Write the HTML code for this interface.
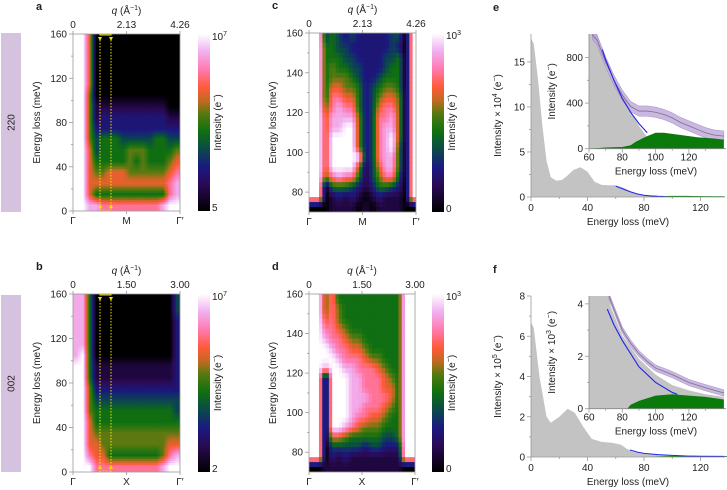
<!DOCTYPE html>
<html><head><meta charset="utf-8">
<style>
html,body{margin:0;padding:0;background:#fff;}
svg{display:block;font-family:"Liberation Sans",Arial,sans-serif;}
text{fill:#222;font-size:10px;}
.b{font-weight:bold;font-size:11px;}
</style></head>
<body>
<svg id="fig" width="727" height="490" viewBox="0 0 727 490" xmlns="http://www.w3.org/2000/svg">
<defs>
<clipPath id="clipA"><rect x="73" y="34" width="107" height="177"/></clipPath>
<clipPath id="clipB"><rect x="73" y="294" width="107" height="178"/></clipPath>
<clipPath id="clipC"><rect x="309" y="33" width="107" height="179"/></clipPath>
<clipPath id="clipD"><rect x="309" y="294" width="106" height="178"/></clipPath>
<clipPath id="clipEi"><rect x="589" y="34" width="136" height="115"/></clipPath>
<clipPath id="clipFi"><rect x="589" y="296" width="136" height="113"/></clipPath>
<linearGradient id="cmap" x1="0" y1="1" x2="0" y2="0">
<stop offset="0" stop-color="#000000"/><stop offset="0.15" stop-color="#2a0a55"/><stop offset="0.25" stop-color="#1a1a80"/>
<stop offset="0.35" stop-color="#0a4a4a"/><stop offset="0.45" stop-color="#107010"/><stop offset="0.55" stop-color="#557a10"/>
<stop offset="0.62" stop-color="#c06a20"/><stop offset="0.7" stop-color="#ff5a3a"/><stop offset="0.8" stop-color="#ff7ab0"/>
<stop offset="0.9" stop-color="#f0b0f0"/><stop offset="1" stop-color="#ffffff"/>
</linearGradient>
</defs>
</svg>
<script>
// ---------- data ----------
const heatA = ["9960000000000000","9960000000000000","9960000000000000","9960000000000000","9960000000000000","9950000000000000","9951111111111100","9951222222222211","9952222222222222","9953444333334433","9963444455544445","9964444454544456","9965566655555567","9966666666666678","9964444444444478","9988777777777899"];
const heatB = ["8840000000000003","8840000000000003","8840000000000002","8840000000000002","8840000000000002","8940000000000002","9941111111111112","9941111111111112","9952222222222222","9953333333333333","9954444444444443","9964444444444444","9965555555555555","9966555555555566","9976644444444578","9997777777777899"];
const heatC = ["9934323222223309","9944332222223209","9944433222233409","9945443322234409","9945554322344409","9946655423455409","9947766423566509","9957877423677509","9968888523778509","9968899523788509","9969999523789509","9969999523789409","9969999923788409","9969999513688409","9957877413577309","9904443212443209","9901212101211109","0001111010111100"];
const heatD = ["9957444444444499","9957544444444499","9967544444444499","9977654444444499","9987765544444499","9998776654444499","9999877765544499","9989988777654499","9909998877765499","9909998877766499","9909998887776499","9909998877765499","9909998776654499","9909987655544499","9906654444433499","9903333323322299","9902121111111199","0011111111111100"];

const eE    = [0,2,5,8,11,14,18,22,26,30,35,40,45,50,55,60,65,70,75,80,85,90,100,110,120,137];
const eGray = [17.6,17,13,8,4,2.2,1.8,1.9,2.4,3.0,3.3,2.8,1.7,1.35,1.3,1.3,1.05,0.65,0.35,0.2,0.15,0.1,0.06,0.04,0.03,0.02];
const eBlueE = [60,65,70,75,80,85,90,95];
const eBlue  = [1.2,0.9,0.6,0.35,0.2,0.13,0.08,0.05];
const eGreenE = [80,90,100,110,120,137];
const eGreen  = [0.02,0.1,0.13,0.12,0.1,0.08];
const eiE    = [60,65,70,75,80,85,90,95,100];
const eiGray = [1100,1000,720,580,480,330,200,100,0];
const eiBlueE = [68,70,75,80,85,90,95];
const eiBlue  = [870,780,600,440,320,220,140];
const eiBandE = [62,65,70,75,80,85,90,95,100,105,110,115,120,125,130,135,141];
const eiBand  = [1000,950,760,600,470,370,330,330,320,300,270,230,200,170,140,120,110];
const eiGreenE = [60,70,80,85,88,92,95,100,105,110,115,120,125,130,135,141];
const eiGreen  = [0,10,15,30,60,90,110,140,140,130,120,110,100,95,90,80];

const fE    = [0,2,6,11,14,20,26,31,37,43,50,58,64,68,73,80,90,110,137];
const fGray = [6.7,6.4,4.0,2.0,1.7,2.0,2.4,2.2,1.5,0.9,0.75,0.7,0.6,0.4,0.25,0.15,0.1,0.05,0.03];
const fBlueE = [70,75,80,90,100,110,120,137];
const fBlue  = [0.35,0.25,0.18,0.12,0.08,0.05,0.04,0.03];
const fiE    = [60,72,73,80,90,100,110,120,130,141];
const fiGray = [4.5,4.5,3.9,2.8,1.9,1.3,0.9,0.7,0.55,0.45];
const fiBlueE = [71,75,80,90,100,110,113];
const fiBlue  = [3.8,3.2,2.6,1.6,1.0,0.62,0.55];
const fiBandE = [72,75,80,85,90,95,100,110,120,130,141];
const fiBand  = [4.3,3.8,3.0,2.5,2.1,1.8,1.55,1.3,1.0,0.8,0.6];
const fiGreenE = [83,85,90,100,110,120,130,141];
const fiGreen  = [0,0.15,0.3,0.5,0.55,0.5,0.45,0.35];

// ---------- helpers ----------
const NS="http://www.w3.org/2000/svg";
const svg=document.getElementById('fig');
function mk(tag,attrs,parent){const e=document.createElementNS(NS,tag);for(const k in attrs)e.setAttribute(k,attrs[k]);(parent||svg).appendChild(e);return e;}
function txt(s,x,y,anchor,parent,cls){const e=mk('text',{x:x,y:y,'text-anchor':anchor||'middle'},parent);if(cls)e.setAttribute('class',cls);e.textContent=s;return e;}
function rtxt(s,x,y,parent){const e=mk('text',{x:0,y:0,'text-anchor':'middle',transform:`translate(${x},${y}) rotate(-90)`},parent);e.innerHTML=s;return e;}
const stops=[[0,[0,0,0]],[0.15,[42,10,85]],[0.25,[26,26,128]],[0.35,[10,74,74]],[0.45,[16,112,16]],[0.55,[85,122,16]],[0.62,[192,106,32]],[0.7,[255,90,58]],[0.8,[255,122,176]],[0.9,[240,176,240]],[1,[255,255,255]]];
function cmap(t){for(let i=1;i<stops.length;i++){if(t<=stops[i][0]){const a=stops[i-1],b=stops[i];const f=(t-a[0])/(b[0]-a[0]);const c=a[1].map((v,k)=>Math.round(v+(b[1][k]-v)*f));return `rgb(${c[0]},${c[1]},${c[2]})`;}}return '#fff';}

// display smoothing: bilinear sampling of the grid (data unchanged)
function sample(rows,u,v){
  const nr=rows.length,nc=rows[0].length;
  u=Math.max(0,Math.min(nc-1,u));v=Math.max(0,Math.min(nr-1,v));
  const i0=Math.floor(u),j0=Math.floor(v),i1=Math.min(nc-1,i0+1),j1=Math.min(nr-1,j0+1),fu=u-i0,fv=v-j0;
  const g=(j,i)=>+rows[j][i]/9;
  return (g(j0,i0)*(1-fu)+g(j0,i1)*fu)*(1-fv)+(g(j1,i0)*(1-fu)+g(j1,i1)*fu)*fv;
}
function heatmap(name,rows,x0,y0,w,h,clip,S){
  const g=mk('g',{'clip-path':`url(#${clip})`});
  
  
  const nr=rows.length,nc=rows[0].length;
  const NX=nc*S,NY=nr*S,cw=w/NX,ch=h/NY;
  for(let j=0;j<NY;j++)for(let i=0;i<NX;i++){
    const u=(i+0.5)/S-0.5, v=(j+0.5)/S-0.5;
    const r=mk('rect',{x:x0+i*cw,y:y0+j*ch,width:cw+0.5,height:ch+0.5,fill:cmap(sample(rows,u,v))},g);
    
    
  }
}
function axisBox(x0,y0,w,h){mk('rect',{x:x0,y:y0,width:w,height:h,fill:'none',stroke:'#999','stroke-width':0.8});}
function yTicks(x0,ysc,major,minor){
  minor.forEach(v=>mk('line',{x1:x0-2,x2:x0,y1:ysc(v),y2:ysc(v),stroke:'#999','stroke-width':0.8}));
  major.forEach(v=>{mk('line',{x1:x0-4,x2:x0,y1:ysc(v),y2:ysc(v),stroke:'#999','stroke-width':0.8});const t=txt(String(v),x0-6,ysc(v)+3.5,'end');});
}
function xTicksBottom(y0,xsc,major,minor,ly){
  minor.forEach(v=>mk('line',{x1:xsc(v),x2:xsc(v),y1:y0,y2:y0+2,stroke:'#999','stroke-width':0.8}));
  major.forEach(v=>{mk('line',{x1:xsc(v),x2:xsc(v),y1:y0,y2:y0+4,stroke:'#999','stroke-width':0.8});const t=txt(String(v),xsc(v),ly);});
}
function area(xs,ys,xsc,ysc,fill,parent,name){
  let d=`M${xsc(xs[0])},${ysc(0)}`;xs.forEach((x,i)=>d+=`L${xsc(x)},${ysc(ys[i])}`);d+=`L${xsc(xs[xs.length-1])},${ysc(0)}Z`;
  const p=mk('path',{d:d,fill:fill},parent);return p;
}
function line(xs,ys,xsc,ysc,stroke,w,parent,name){
  const p=mk('path',{d:xs.map((x,i)=>`${i?'L':'M'}${xsc(x)},${ysc(ys[i])}`).join(''),fill:'none',stroke:stroke,'stroke-width':w},parent);
  return p;
}
function band(xs,ys,dv,xsc,ysc,parent,name){
  let d='';xs.forEach((x,i)=>d+=`${i?'L':'M'}${xsc(x)},${ysc(ys[i]+dv)}`);
  for(let i=xs.length-1;i>=0;i--)d+=`L${xsc(xs[i])},${ysc(ys[i]-dv)}`;d+='Z';
  const p=mk('path',{d:d,fill:'#b7a0d4','fill-opacity':0.75,stroke:'#a58cc6','stroke-width':0.5},parent);
  
  line(xs,ys,xsc,ysc,'#7d6e8c',0.8,parent,name+'-center');
}

// ---------- side labels ----------
[[33,212,'220'],[295,472,'002']].forEach(([y0,y1,s])=>{
  const r=mk('rect',{x:1,y:y0,width:20,height:y1-y0,fill:'#d4c2de'});
  
  const t=rtxt(s,14.5,(y0+y1)/2);
});

// ---------- heatmap panels ----------
function hmPanel(letter,rows,x0,y0,w,h,eMin,qmax,sym,cbx,cbTop,cbBot,clip,S,yMaj,yMin,dotted){
  const ysc=E=>y0+h-(E-eMin)/(160-eMin)*h;
  heatmap('heatmap-'+letter,rows,x0,y0,w,h,clip,S);
  axisBox(x0,y0,w,h);
  yTicks(x0,ysc,yMaj,yMin);
  const L=txt(letter,x0-37,y0-24,'start',null,'b');
  const qv=[0,qmax/2,qmax],ql=qmax>4?['0','2.13','4.26']:['0','1.50','3.00'];
  qv.forEach((q,i)=>{const x=x0+q/qmax*w;mk('line',{x1:x,x2:x,y1:y0,y2:y0-3,stroke:'#999','stroke-width':0.8});const t=txt(ql[i],x,y0-6);});
  const qt=mk('text',{x:x0+w/2,y:y0-20,'text-anchor':'middle'});qt.innerHTML='<tspan font-style="italic">q</tspan> (Å<tspan dy="-4" font-size="7">−1</tspan><tspan dy="4">)</tspan>';
  
  [0,0.5,1].forEach((f,i)=>{const x=x0+f*w;mk('line',{x1:x,x2:x,y1:y0+h,y2:y0+h+3,stroke:'#999','stroke-width':0.8});const t=txt(['Γ',sym,'Γ′'][i],x,y0+h+13);});
  const yt=rtxt('Energy loss (meV)',x0-33,y0+h/2);
  const cb=mk('rect',{x:cbx,y:y0,width:12,height:h,fill:'url(#cmap)'});
  const t1=mk('text',{x:cbx+14,y:y0+6,'text-anchor':'start'});t1.innerHTML=cbTop;
  const t2=txt(cbBot,cbx+14,y0+h,'start');
  const ct=rtxt('Intensity (e<tspan dy="-4" font-size="7">−</tspan><tspan dy="4">)</tspan>',cbx+23,y0+h/2);
  if(dotted){
    [100,111].forEach(x=>{const l=mk('line',{x1:x,x2:x,y1:y0,y2:y0+h,stroke:'#f0e000','stroke-width':1,'stroke-dasharray':'1.5,1.5'});
      mk('path',{d:`M${x-2},${y0+3}L${x+2},${y0+3}L${x},${y0+7}Z`,fill:'#f0e000'});mk('path',{d:`M${x-2},${y0+h-3}L${x+2},${y0+h-3}L${x},${y0+h-7}Z`,fill:'#f0e000'});});
    mk('path',{d:`M100,${y0+1}L111,${y0+1}`,stroke:'#f0e000','stroke-width':1});
    mk('path',{d:`M100,${y0+h-1}L111,${y0+h-1}`,stroke:'#f0e000','stroke-width':0.8,'stroke-dasharray':'1.5,1.5'});
  }
}
hmPanel('a',heatA,73,34,107,177,0,4.26,'M',198,'10<tspan dy="-4" font-size="7">7</tspan>','5','clipA',5,[0,40,80,120,160],[20,60,100,140],true);
hmPanel('b',heatB,73,294,107,178,0,3.0,'X',198,'10<tspan dy="-4" font-size="7">7</tspan>','2','clipB',5,[0,40,80,120,160],[20,60,100,140],true);
hmPanel('c',heatC,309,33,107,179,70,4.26,'M',432,'10<tspan dy="-4" font-size="7">3</tspan>','0','clipC',2,[80,100,120,140,160],[90,110,130,150],false);
hmPanel('d',heatD,309,294,106,178,70,3.0,'X',432,'10<tspan dy="-4" font-size="7">3</tspan>','0','clipD',2,[80,100,120,140,160],[90,110,130,150],false);

// ---------- spectra panels ----------
function specPanel(letter,y0,yB,yMax,yMaj,yMin,ylab,E,G,BE,B,GE,GR,ins){
  const xsc=e=>531+e/40*56.5, ysc=v=>yB-(v)/yMax*(yB-y0);
  const L=txt(letter,493,y0-23,'start',null,'b');
  area(E,G,xsc,ysc,'#c3c3c3',null,'total-spectrum-area');
  area(GE,GR,xsc,ysc,'#0a7a0a',null,'signal-area');
  line(BE,B,xsc,ysc,'#2222ee',1,null,'background-fit-line');
  mk('line',{x1:531,x2:531,y1:y0,y2:yB,stroke:'#999','stroke-width':0.8});
  mk('line',{x1:531,x2:725,y1:yB,y2:yB,stroke:'#999','stroke-width':0.8});
  yTicks(531,ysc,yMaj,yMin);
  xTicksBottom(yB,xsc,[0,40,80,120],[20,60,100],yB+14);
  const xt=txt('Energy loss (meV)',628,yB+28);
  const yt=rtxt(ylab,501,(y0+yB)/2);
  // inset
  const ix=e=>589+(e-60)/20*33.3, iy=v=>ins.yB-v/ins.max*(ins.yB-y0);
  const g=mk('g',{'clip-path':`url(#${ins.clip})`});
  mk('rect',{x:589,y:y0,width:137,height:ins.yB-y0,fill:'#fff'},g);
  area(ins.E,ins.G,ix,iy,'#c3c3c3',g,'inset-total-area');
  band(ins.BdE,ins.Bd,ins.bw,ix,iy,g,'inset-data-band');
  area(ins.GE,ins.GR,ix,iy,'#0a7a0a',g,'inset-signal-area');
  line(ins.BE,ins.B,ix,iy,'#2222ee',1.1,g,'inset-background-fit');
  mk('line',{x1:589,x2:589,y1:y0,y2:ins.yB,stroke:'#888','stroke-width':0.8});
  mk('line',{x1:589,x2:726,y1:ins.yB,y2:ins.yB,stroke:'#888','stroke-width':0.8});
  yTicks(589,iy,ins.maj,ins.min);
  xTicksBottom(ins.yB,ix,[60,80,100,120],[70,90,110,130],ins.yB+12);
  const it=txt('Energy loss (meV)',656,ins.yB+26);
  const iyt=rtxt(ins.lab,555,(y0+ins.yB)/2);
}
specPanel('e',34,197,18.1,[0,5,10,15],[2.5,7.5,12.5],'Intensity × 10<tspan dy="-4" font-size="7">4</tspan><tspan dy="4"> (e</tspan><tspan dy="-4" font-size="7">−</tspan><tspan dy="4">)</tspan>',
  eE,eGray,eBlueE,eBlue,eGreenE,eGreen,
  {yB:148.7,max:1006,clip:'clipEi',E:eiE,G:eiGray,BdE:eiBandE,Bd:eiBand,bw:45,GE:eiGreenE,GR:eiGreen,BE:eiBlueE,B:eiBlue,maj:[0,400,800],min:[200,600],lab:'Intensity (e<tspan dy="-4" font-size="7">−</tspan><tspan dy="4">)</tspan>'});
specPanel('f',296,457,8,[0,2,4,6,8],[1,3,5,7],'Intensity × 10<tspan dy="-4" font-size="7">5</tspan><tspan dy="4"> (e</tspan><tspan dy="-4" font-size="7">−</tspan><tspan dy="4">)</tspan>',
  fE,fGray,fBlueE,fBlue,fiGreenE,fiGreen.map(v=>v*0.1),
  {yB:408.7,max:4.3,clip:'clipFi',E:fiE,G:fiGray,BdE:fiBandE,Bd:fiBand,bw:0.12,GE:fiGreenE,GR:fiGreen,BE:fiBlueE,B:fiBlue,maj:[0,2,4],min:[1,3],lab:'Intensity × 10<tspan dy="-4" font-size="7">3</tspan><tspan dy="4"> (e</tspan><tspan dy="-4" font-size="7">−</tspan><tspan dy="4">)</tspan>'});
</script>
</body></html>
